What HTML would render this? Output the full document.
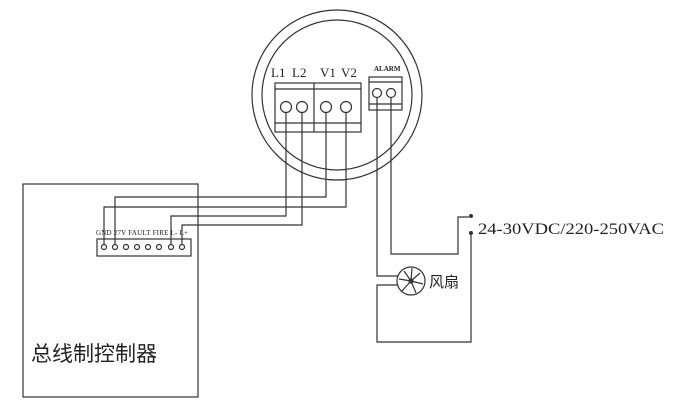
<!DOCTYPE html>
<html><head><style>body{margin:0;background:#fff}svg{display:block}</style></head><body>
<svg width="680" height="403" xmlns="http://www.w3.org/2000/svg" font-family="Liberation Serif, serif">
<g fill="none" stroke="#333" stroke-width="1.2">
<circle cx="337" cy="95" r="85"/>
<circle cx="337" cy="95" r="75"/>
<rect x="275" y="83" width="86" height="49"/>
<line x1="314" y1="83" x2="314" y2="132"/>
<line x1="275" y1="89" x2="361" y2="89"/>
<line x1="275" y1="123" x2="361" y2="123"/>
<circle cx="286" cy="107" r="5.5"/><circle cx="302" cy="107" r="5.5"/>
<circle cx="326" cy="107" r="5.5"/><circle cx="346" cy="107" r="5.5"/>
<rect x="369" y="77" width="33" height="33"/>
<line x1="369" y1="82" x2="402" y2="82"/><line x1="369" y1="104" x2="402" y2="104"/>
<circle cx="377" cy="93" r="4.5"/><circle cx="391" cy="93" r="4.5"/>
<rect x="23" y="184" width="175" height="213"/>
<rect x="97" y="239" width="94" height="17"/>
<circle cx="104" cy="247" r="2.5"/><circle cx="115" cy="247" r="2.5"/><circle cx="126" cy="247" r="2.5"/><circle cx="137" cy="247" r="2.5"/><circle cx="148" cy="247" r="2.5"/><circle cx="159" cy="247" r="2.5"/><circle cx="171" cy="247" r="2.5"/><circle cx="182" cy="247" r="2.5"/>
<polyline points="326,112 326,197 115,197 115,244"/>
<polyline points="346,112 346,207 104,207 104,244"/>
<polyline points="286,112 286,216 171,216 171,244"/>
<polyline points="302,112 302,225 182,225 182,244"/>
<polyline points="377,97 377,276 398,276"/>
<polyline points="391,97 391,254 458,254 458,217 469,217"/>
<polyline points="471,234 471,342 377,342 377,285 398,285"/>
<circle cx="411" cy="281" r="14"/>
<circle cx="411" cy="281" r="2"/>
<path d="M411 281 L404 271 M411 281 L420 273 M411 281 L423 284 M411 281 L416 293 M411 281 L402 291 M411 281 L399 279 M411 281 L412 268"/>
</g>
<circle cx="471" cy="216" r="2" fill="#333"/><circle cx="471" cy="233" r="2" fill="#333"/>
<g fill="#222" font-size="13">
<text x="271" y="77">L1</text><text x="292" y="77">L2</text><text x="320" y="77">V1</text><text x="341" y="77">V2</text>
</g>
<text x="374" y="71" font-size="7" font-weight="bold" fill="#222">ALARM</text>
<text x="96" y="235" font-size="7" fill="#222" textLength="92" lengthAdjust="spacing">GND 27V FAULT FIRE L- L+</text>
<text x="478" y="234" font-size="16" fill="#222" textLength="186" lengthAdjust="spacingAndGlyphs">24-30VDC/220-250VAC</text>
<text x="429" y="287" font-size="15" fill="#222" font-family="Liberation Sans, Noto Sans CJK SC, sans-serif">风扇</text>
<text x="31" y="361" font-size="21" fill="#222" font-family="Liberation Sans, Noto Sans CJK SC, sans-serif">总线制控制器</text>
</svg>
</body></html>
